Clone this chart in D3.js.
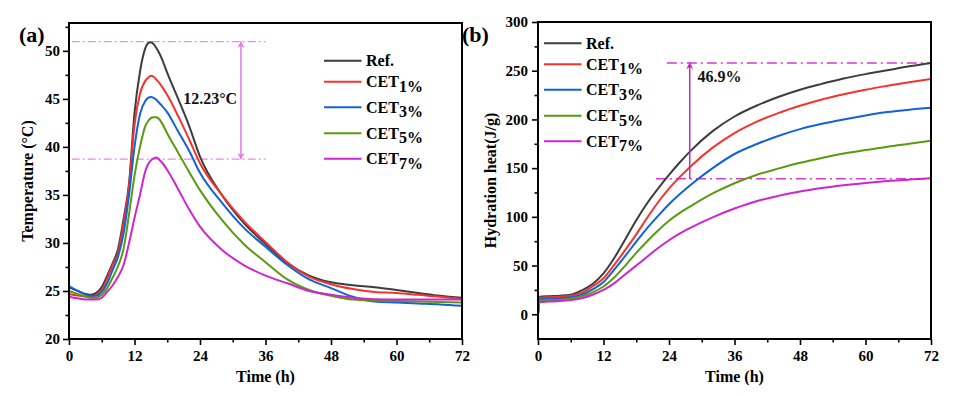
<!DOCTYPE html>
<html>
<head>
<meta charset="utf-8">
<script src="https://cdn.jsdelivr.net/npm/d3@7"></script>
<style>
  html, body { margin: 0; padding: 0; background: #fff; }
  svg { display: block; font-family: "Liberation Serif", "Times New Roman", serif; font-weight: bold; }
</style>
</head>
<body>
<div id="chart"></div>
<script>
// --- (a) temperature curves ---
const TIME_A = [0, 2, 4, 5, 6, 7, 8, 9, 10, 11, 12, 13, 14, 14.5, 15, 15.5, 16, 16.5, 17, 18,
  20, 22, 24, 28, 32, 36, 40, 44, 48, 52, 56, 60, 64, 68, 72];
const TEMP_REF  = [25.4, 24.9, 24.6, 24.8, 25.4, 26.6, 27.9, 29.4, 32.5, 36.2, 43.5, 47.8, 50.3, 50.8, 50.9, 50.7, 50.3, 49.8, 49.2, 47.7,
  45.0, 42.2, 39.0, 35.0, 32.1, 29.9, 27.9, 26.6, 25.9, 25.6, 25.4, 25.1, 24.8, 24.5, 24.3];
const TEMP_CET1 = [24.7, 24.5, 24.4, 24.6, 25.1, 26.3, 27.7, 29.0, 32.0, 36.0, 42.3, 45.5, 46.9, 47.2, 47.4, 47.3, 47.0, 46.7, 46.3, 45.4,
  43.2, 40.8, 38.3, 35.0, 32.3, 30.1, 28.0, 26.5, 25.7, 25.2, 24.9, 24.8, 24.6, 24.4, 24.15];
const TEMP_CET3 = [25.5, 24.9, 24.5, 24.5, 24.9, 25.8, 27.2, 28.6, 31.0, 35.0, 40.0, 43.4, 44.8, 45.1, 45.2, 45.1, 44.9, 44.6, 44.3, 43.6,
  41.6, 39.6, 37.3, 34.2, 31.6, 29.6, 27.7, 26.2, 25.3, 24.4, 23.9, 23.8, 23.7, 23.6, 23.45];
const TEMP_CET5 = [25.0, 24.6, 24.3, 24.3, 24.6, 25.3, 26.4, 27.6, 29.4, 33.0, 37.0, 40.0, 42.2, 42.7, 43.0, 43.1, 43.1, 42.9, 42.5, 41.4,
  39.4, 37.4, 35.5, 32.4, 29.9, 28.0, 26.2, 25.1, 24.5, 24.1, 24.0, 23.95, 23.9, 23.85, 23.8];
const TEMP_CET7 = [24.4, 24.2, 24.1, 24.1, 24.3, 24.9, 25.6, 26.5, 27.7, 30.0, 32.6, 35.0, 37.5, 38.2, 38.6, 38.8, 38.9, 38.7, 38.4, 37.6,
  35.6, 33.5, 31.7, 29.3, 27.7, 26.6, 25.8, 25.0, 24.6, 24.3, 24.15, 24.1, 24.1, 24.1, 24.1];

// --- (b) cumulative hydration heat ---
const TIME_B = [0, 0.3, 2, 4, 6, 8, 10, 12, 14, 16, 18, 20, 22, 24, 26, 28, 32, 36, 40, 44,
  48, 52, 56, 60, 64, 68, 72];
const HEAT_REF  = [0, 18, 18.5, 19, 20, 24.5, 31, 42, 58, 77, 96.5, 114, 129, 143, 156, 168, 188, 203, 214, 223,
  230.5, 236.5, 242, 246.5, 250.5, 254.5, 258];
const HEAT_CET1 = [0, 17, 17.5, 18, 19, 22, 28.5, 37, 51, 66, 82, 99, 115, 129, 141, 152, 171, 186, 197.5, 206.5,
  214, 220.5, 225.8, 230.5, 234.5, 238.2, 241.5];
const HEAT_CET3 = [0, 15.5, 16, 16.5, 17.5, 20, 25.5, 33, 46, 60, 74.5, 88.5, 101, 113, 123.5, 133, 150, 164.5, 174.5, 183,
  190, 195.5, 200, 204, 207.5, 210, 212];
const HEAT_CET5 = [0, 14, 14.5, 15, 16, 18.5, 22.5, 28.5, 38, 50, 63, 75, 86, 96, 104, 111, 124, 134.5, 143, 149.5,
  155.5, 160.5, 165, 168.5, 172, 175, 178];
const HEAT_CET7 = [0, 12.5, 13, 13.5, 14.5, 16.5, 20, 25, 32, 41, 50, 59, 68, 76, 83, 89, 99.5, 108.5, 116, 121.5,
  126, 129.5, 132.5, 134.8, 136.7, 138.2, 139.5];

const LEGEND_MAIN = ['Ref.', 'CET', 'CET', 'CET', 'CET'];
const LEGEND_SUB = ['', '1%', '3%', '5%', '7%'];
const COLORS = ['#3d3d3d', '#f7312c', '#1262d8', '#5a9a10', '#d024d0'];

const X_TICKS = [0, 12, 24, 36, 48, 60, 72];
const X_MINOR = [6, 18, 30, 42, 54, 66];
const TEMP_TICKS = [20, 25, 30, 35, 40, 45, 50];
const TEMP_MINOR = [22.5, 27.5, 32.5, 37.5, 42.5, 47.5, 52.5];
const HEAT_TICKS = [0, 50, 100, 150, 200, 250, 300];
const HEAT_MINOR = [25, 75, 125, 175, 225, 275];

// annotation values
const TEMP_PEAK_REF = 50.96;
const TEMP_PEAK_CET7 = 38.73;
const HEAT_END_REF = 258;
const HEAT_END_CET7 = 139;

const W = 955, H = 396;
const LEGEND_ROWS = [0, 21, 46.5, 72.5, 98];

const svg = d3.select('#chart').append('svg')
  .attr('width', W).attr('height', H)
  .attr('viewBox', `0 0 ${W} ${H}`);

const defs = svg.append('defs');
function arrowMarker(id, color) {
  defs.append('marker')
    .attr('id', id)
    .attr('viewBox', '0 0 10 10')
    .attr('refX', 9).attr('refY', 5)
    .attr('markerUnits', 'userSpaceOnUse')
    .attr('markerWidth', 8).attr('markerHeight', 7)
    .attr('orient', 'auto-start-reverse')
    .append('path')
    .attr('d', 'M0,0 L10,5 L0,10 L3,5 z')
    .attr('fill', color);
}
arrowMarker('arrA', '#e27ae2');
arrowMarker('arrB', '#cc22cc');

function drawPanel(cfg) {
  const x = d3.scaleLinear().domain([0, 72]).range([cfg.left, cfg.right]);
  const y = d3.scaleLinear().domain(cfg.yDomain).range([cfg.bottom, cfg.top]);
  const g = svg.append('g');

  g.append('clipPath').attr('id', cfg.id + '-clip')
    .append('rect')
    .attr('x', cfg.left).attr('y', cfg.top)
    .attr('width', cfg.right - cfg.left).attr('height', cfg.bottom - cfg.top);

  // annotation guide lines (drawn under curves)
  const ann = cfg.annotation;
  for (const v of [ann.hi, ann.lo]) {
    g.append('line')
      .attr('x1', x(v === ann.hi ? ann.hiFrom : ann.loFrom)).attr('x2', x(ann.to))
      .attr('y1', y(v)).attr('y2', y(v))
      .attr('stroke', ann.color)
      .attr('stroke-width', ann.width)
      .attr('stroke-dasharray', ann.dash);
  }

  const plot = g.append('g').attr('clip-path', `url(#${cfg.id}-clip)`);
  cfg.series.forEach((vals, i) => {
    const line = d3.line()
      .x((d, j) => x(cfg.time[j]))
      .y((d) => y(d))
      .curve(d3.curveMonotoneX);
    plot.append('path')
      .datum(vals)
      .attr('d', line)
      .attr('fill', 'none')
      .attr('stroke', COLORS[i])
      .attr('stroke-width', 2)
      .attr('stroke-linejoin', 'round');
  });

  // arrow + label
  g.append('line')
    .attr('x1', x(ann.arrowX)).attr('x2', x(ann.arrowX))
    .attr('y1', y(ann.lo)).attr('y2', y(ann.hi))
    .attr('stroke', ann.arrowColor)
    .attr('stroke-width', 1.5)
    .attr('marker-end', `url(#${ann.marker})`)
    .attr('marker-start', ann.both ? `url(#${ann.marker})` : null);
  g.append('text')
    .attr('x', x(ann.labelX)).attr('y', y(ann.labelY))
    .attr('text-anchor', ann.anchor)
    .attr('dominant-baseline', 'middle')
    .attr('font-size', 16)
    .attr('fill', '#111')
    .text(ann.label);

  // axes
  const styleAxis = (sel) => {
    sel.select('.domain').remove();
    sel.selectAll('line').attr('stroke', '#000').attr('stroke-width', 1.6);
    sel.selectAll('text').attr('fill', '#000')
      .style('font-size', '15px')
      .style('font-family', '"Liberation Serif", "Times New Roman", serif')
      .style('font-weight', 'bold');
  };
  g.append('g').attr('transform', `translate(0,${cfg.bottom})`)
    .call(d3.axisBottom(x).tickValues(X_TICKS).tickSize(6).tickPadding(5).tickFormat(d3.format('d')))
    .call(styleAxis);
  g.append('g').attr('transform', `translate(0,${cfg.bottom})`)
    .call(d3.axisBottom(x).tickValues(X_MINOR).tickSize(3.5).tickFormat(''))
    .call(styleAxis);
  g.append('g').attr('transform', `translate(${cfg.left},0)`)
    .call(d3.axisLeft(y).tickValues(cfg.yTicks).tickSize(6).tickPadding(cfg.yPad).tickFormat(d3.format('d')))
    .call(styleAxis);
  g.append('g').attr('transform', `translate(${cfg.left},0)`)
    .call(d3.axisLeft(y).tickValues(cfg.yMinor).tickSize(3.5).tickFormat(''))
    .call(styleAxis);

  // frame
  g.append('rect')
    .attr('x', cfg.left).attr('y', cfg.top)
    .attr('width', cfg.right - cfg.left).attr('height', cfg.bottom - cfg.top)
    .attr('fill', 'none').attr('stroke', '#000').attr('stroke-width', 2);

  // titles
  g.append('text')
    .attr('x', (cfg.left + cfg.right) / 2).attr('y', 382)
    .attr('text-anchor', 'middle').attr('font-size', 16)
    .text('Time (h)');
  g.append('text')
    .attr('transform', `translate(${cfg.yTitleX},${(cfg.top + cfg.bottom) / 2}) rotate(-90)`)
    .attr('text-anchor', 'middle').attr('font-size', 16)
    .text(cfg.yTitle);
  g.append('text')
    .attr('x', cfg.tagX).attr('y', 42)
    .attr('font-size', 22)
    .text(cfg.tag);

  // legend
  const lg = g.append('g');
  LEGEND_MAIN.forEach((m, i) => {
    const ly = cfg.legend.y + LEGEND_ROWS[i];
    lg.append('line')
      .attr('x1', cfg.legend.x).attr('x2', cfg.legend.x + 37.5)
      .attr('y1', ly).attr('y2', ly)
      .attr('stroke', COLORS[i]).attr('stroke-width', 2);
    const t = lg.append('text')
      .attr('x', cfg.legend.x + 42).attr('y', ly + 5.5)
      .attr('font-size', 16);
    t.append('tspan').text(m);
    if (LEGEND_SUB[i]) {
      t.append('tspan').attr('dy', 4.5).attr('font-size', 16).text(LEGEND_SUB[i]);
    }
  });
}

drawPanel({
  id: 'a', tag: '(a)', tagX: 19,
  left: 69, right: 462, top: 23, bottom: 339,
  yDomain: [20, 52.9], yTicks: TEMP_TICKS, yMinor: TEMP_MINOR, yPad: 3,
  yTitle: 'Temperature (°C)', yTitleX: 33,
  time: TIME_A,
  series: [TEMP_REF, TEMP_CET1, TEMP_CET3, TEMP_CET5, TEMP_CET7],
  legend: { x: 324, y: 60.7 },
  annotation: {
    hi: TEMP_PEAK_REF, lo: TEMP_PEAK_CET7, hiFrom: 0.5, loFrom: 0.5, to: 36,
    color: '#e68ae6', width: 1.1, dash: '8,3,2,3',
    arrowX: 31.5, arrowColor: '#e27ae2', marker: 'arrA', both: true,
    label: '12.23°C', labelX: 30.8, labelY: 44.9, anchor: 'end'
  }
});

drawPanel({
  id: 'b', tag: '(b)', tagX: 462,
  left: 538, right: 931, top: 22, bottom: 339,
  yDomain: [-25.4, 300], yTicks: HEAT_TICKS, yMinor: HEAT_MINOR, yPad: 4,
  yTitle: 'Hydration heat(J/g)', yTitleX: 496,
  time: TIME_B,
  series: [HEAT_REF, HEAT_CET1, HEAT_CET3, HEAT_CET5, HEAT_CET7],
  legend: { x: 544, y: 43.3 },
  annotation: {
    hi: HEAT_END_REF, lo: HEAT_END_CET7, hiFrom: 23.6, loFrom: 21.6, to: 72,
    color: '#d43bd4', width: 1.5, dash: '10,4,2,4',
    arrowX: 27.8, arrowColor: '#cc22cc', marker: 'arrB', both: false,
    label: '46.9%', labelX: 29.2, labelY: 242.6, anchor: 'start'
  }
});
</script>
</body>
</html>
